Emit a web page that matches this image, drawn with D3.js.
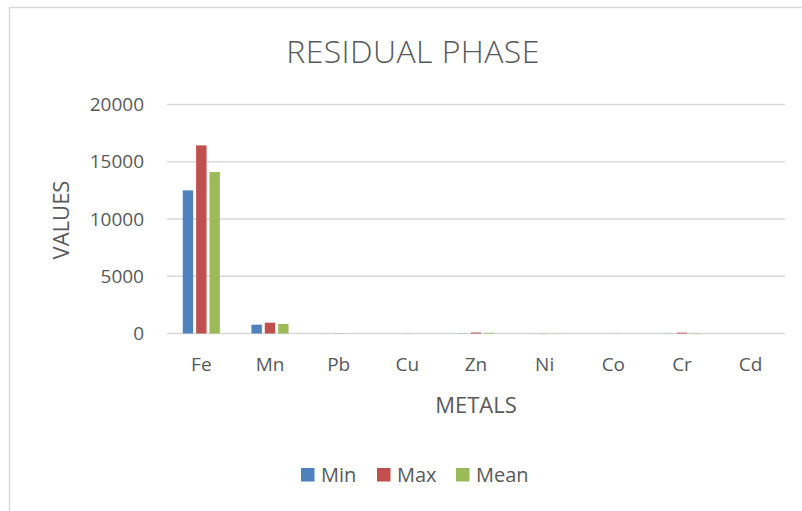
<!DOCTYPE html>
<html>
<head>
<meta charset="utf-8">
<script src="https://cdn.jsdelivr.net/npm/d3@7"></script>
<style>
  body { margin: 0; background: #fff; }
  text { font-family: "Open Sans", sans-serif; fill: #595959; }
</style>
</head>
<body>
<div id="chart"></div>
<script>
const metals = ['Fe', 'Mn', 'Pb', 'Cu', 'Zn', 'Ni', 'Co', 'Cr', 'Cd'];
const seriesNames = ['Min', 'Max', 'Mean'];
const minValues = [12500, 770, 4, 3, 15, 4, 3, 10, 1];
const maxValues = [16430, 945, 12, 8, 80, 12, 8, 70, 2];
const meanValues = [14100, 830, 8, 5, 55, 8, 5, 30, 1];
const yTicks = [0, 5000, 10000, 15000, 20000];
const colors = ['#4f81bd', '#c0504d', '#9bbb59'];

const rows = metals.map((m, i) => ({
  metal: m,
  Min: minValues[i],
  Max: maxValues[i],
  Mean: meanValues[i]
}));

const svgWidth = 802, svgHeight = 511;
const margin = { top: 104.5, right: 17, bottom: 177.5, left: 167 };
const width = svgWidth - margin.left - margin.right;
const height = svgHeight - margin.top - margin.bottom;

const root = d3.select('#chart').append('svg')
  .attr('width', svgWidth)
  .attr('height', svgHeight);

// chart frame
root.append('rect')
  .attr('x', 9.5).attr('y', 7.5)
  .attr('width', 900).attr('height', 600)
  .attr('fill', 'none').attr('stroke', '#d9d9d9').attr('stroke-width', 1.5);

const svg = root.append('g')
  .attr('transform', `translate(${margin.left},${margin.top})`);

const x0 = d3.scaleBand().domain(metals).range([0, width]).paddingInner(0).paddingOuter(0);
const x1 = d3.scaleBand().domain(seriesNames).range([x0.bandwidth() / 2 - 21.5, x0.bandwidth() / 2 + 21.5]).padding(0.22);
const y = d3.scaleLinear().domain([0, 20000]).range([height, 0]);
const color = d3.scaleOrdinal().domain(seriesNames).range(colors);

// gridlines
svg.append('g')
  .selectAll('line')
  .data(yTicks)
  .enter().append('line')
  .attr('x1', 0).attr('x2', width)
  .attr('y1', d => y(d)).attr('y2', d => y(d))
  .attr('stroke', '#d9d9d9').attr('stroke-width', 1.5);

// bars
svg.selectAll('.grp')
  .data(rows)
  .enter().append('g')
  .attr('class', 'grp')
  .attr('transform', d => `translate(${x0(d.metal)},0)`)
  .selectAll('rect')
  .data(d => seriesNames.map(s => ({ key: s, value: d[s] })))
  .enter().append('rect')
  .attr('x', d => x1(d.key))
  .attr('width', x1.bandwidth())
  .attr('y', d => y(d.value))
  .attr('height', d => y(0) - y(d.value))
  .attr('fill', d => color(d.key));

// y axis labels
const yAxis = svg.append('g')
  .call(d3.axisLeft(y).tickValues(yTicks).tickSize(0).tickPadding(23).tickFormat(d3.format('d')));
yAxis.select('.domain').remove();
yAxis.selectAll('text')
  .style('font-size', '19px')
  .style('font-family', '"Open Sans", sans-serif')
  .attr('fill', '#595959');

// x axis labels
const xAxis = svg.append('g')
  .attr('transform', `translate(0,${height})`)
  .call(d3.axisBottom(x0).tickSize(0).tickPadding(24));
xAxis.select('.domain').remove();
xAxis.selectAll('text')
  .style('font-size', '19px')
  .style('font-family', '"Open Sans", sans-serif')
  .attr('fill', '#595959');

// title
root.append('text')
  .attr('x', 413).attr('y', 63)
  .attr('text-anchor', 'middle')
  .style('font-size', '32px')
  .style('font-weight', 300)
  .style('letter-spacing', '0.4px')
  .text('RESIDUAL PHASE');

// axis titles
root.append('text')
  .attr('x', 476).attr('y', 413)
  .attr('text-anchor', 'middle')
  .style('font-size', '22px')
  .text('METALS');

root.append('text')
  .attr('transform', 'translate(69,220) rotate(-90)')
  .attr('text-anchor', 'middle')
  .style('font-size', '22px')
  .text('VALUES');

// legend
const legendX = [301, 377, 456];
const legend = root.append('g').selectAll('g')
  .data(seriesNames)
  .enter().append('g')
  .attr('transform', (d, i) => `translate(${legendX[i]},468)`);
legend.append('rect')
  .attr('width', 13.5).attr('height', 13.5)
  .attr('fill', d => color(d));
legend.append('text')
  .attr('x', 20).attr('y', 13.5)
  .style('font-size', '20px')
  .text(d => d);
</script>
</body>
</html>
